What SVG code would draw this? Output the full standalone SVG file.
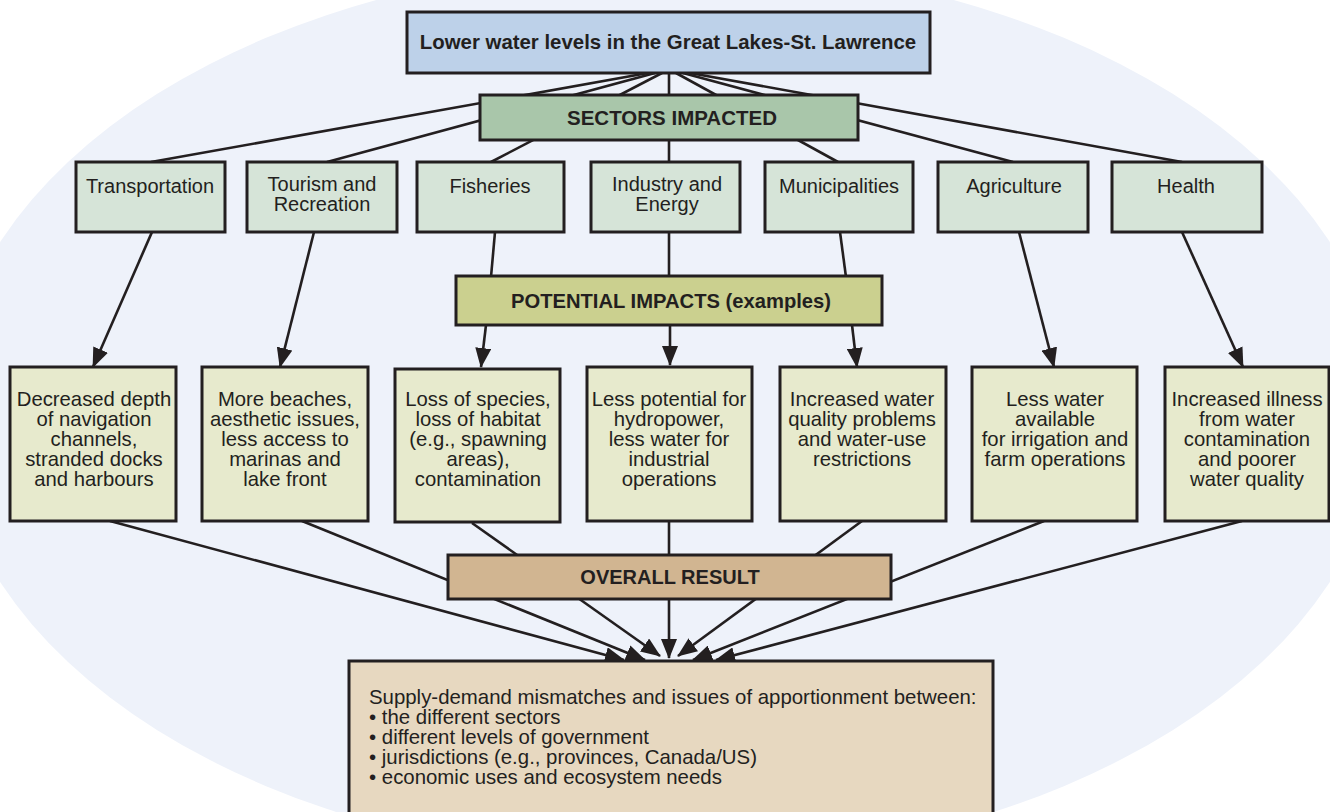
<svg xmlns="http://www.w3.org/2000/svg" width="1330" height="812" viewBox="0 0 1330 812">
<style>
.box{stroke:#231f20;stroke-width:3}
.t{font-family:"Liberation Sans",Arial,Helvetica,sans-serif;font-size:20px;fill:#231f20}
.c{text-anchor:middle}
.b{font-weight:bold}
.ln{stroke:#231f20;stroke-width:2.6;fill:none}
.ar{stroke:#231f20;stroke-width:2.6;fill:none;marker-end:url(#ah)}
.sec{fill:#d6e4d8}
.res{fill:#e7eacd}
</style>
<defs>
<marker id="ah" markerUnits="userSpaceOnUse" markerWidth="20" markerHeight="16" refX="19" refY="8" orient="auto">
<path d="M0,0 L20,8 L0,16 Z" fill="#231f20"/>
</marker>
</defs>
<rect width="1330" height="812" fill="#ffffff"/>
<ellipse cx="665" cy="412" rx="718" ry="450" fill="#eef2fa"/>
<g id="connectors">
<line class="ln" x1="648" y1="73" x2="151" y2="162"/>
<line class="ln" x1="655" y1="73" x2="327" y2="162"/>
<line class="ln" x1="662" y1="73" x2="491" y2="162"/>
<line class="ln" x1="669" y1="73" x2="669" y2="162"/>
<line class="ln" x1="676" y1="73" x2="838" y2="162"/>
<line class="ln" x1="683" y1="73" x2="1013" y2="162"/>
<line class="ln" x1="690" y1="73" x2="1182" y2="162"/>
<line class="ar" x1="152" y1="232" x2="93" y2="367"/>
<line class="ar" x1="314" y1="232" x2="280" y2="367"/>
<line class="ln" x1="495" y1="232" x2="491" y2="277"/>
<line class="ar" x1="486" y1="325" x2="481" y2="367"/>
<line class="ln" x1="669" y1="232" x2="669" y2="277"/>
<line class="ar" x1="670" y1="325" x2="670" y2="365"/>
<line class="ln" x1="840" y1="232" x2="846" y2="277"/>
<line class="ar" x1="852" y1="325" x2="857" y2="367"/>
<line class="ar" x1="1019" y1="232" x2="1054" y2="367"/>
<line class="ar" x1="1182" y1="232" x2="1243" y2="367"/>
<line class="ar" x1="110" y1="521" x2="624" y2="660"/>
<line class="ar" x1="302" y1="521" x2="645" y2="660"/>
<line class="ar" x1="472" y1="523" x2="660" y2="656"/>
<line class="ar" x1="669" y1="521" x2="669" y2="658"/>
<line class="ar" x1="862" y1="521" x2="678" y2="656"/>
<line class="ar" x1="1044" y1="521" x2="693" y2="660"/>
<line class="ar" x1="1242" y1="521" x2="716" y2="660"/>
</g>
<g id="n-top">
<rect class="box" x="407" y="12" width="523" height="61" fill="#bdd1e9"/>
<text class="t c b" x="668" y="49" style="font-size:20.4px">Lower water levels in the Great Lakes-St. Lawrence</text>
</g>
<g id="n-sectors">
<rect class="box" x="480" y="95" width="378" height="45" fill="#a9c6aa"/>
<text class="t c b" x="672" y="125" style="font-size:20.5px">SECTORS IMPACTED</text>
</g>
<g id="n-transportation">
<rect class="box sec" x="76" y="162" width="149" height="70"/>
<text class="t c" x="150" y="193">Transportation</text>
</g>
<g id="n-tourism">
<rect class="box sec" x="247" y="162" width="150" height="70"/>
<text class="t c" x="322" y="191">Tourism and<tspan x="322" dy="20">Recreation</tspan></text>
</g>
<g id="n-fisheries">
<rect class="box sec" x="417" y="162" width="147" height="70"/>
<text class="t c" x="490" y="193">Fisheries</text>
</g>
<g id="n-industry">
<rect class="box sec" x="591" y="162" width="149" height="70"/>
<text class="t c" x="667" y="191">Industry and<tspan x="667" dy="20">Energy</tspan></text>
</g>
<g id="n-municipalities">
<rect class="box sec" x="765" y="162" width="148" height="70"/>
<text class="t c" x="839" y="193">Municipalities</text>
</g>
<g id="n-agriculture">
<rect class="box sec" x="938" y="162" width="150" height="70"/>
<text class="t c" x="1014" y="193">Agriculture</text>
</g>
<g id="n-health">
<rect class="box sec" x="1112" y="162" width="150" height="70"/>
<text class="t c" x="1186" y="193">Health</text>
</g>
<g id="n-potential">
<rect class="box" x="456" y="276" width="426" height="49" fill="#cbd08f"/>
<text class="t c b" x="671" y="308" style="font-size:20.2px">POTENTIAL IMPACTS (examples)</text>
</g>
<g id="n-r1">
<rect class="box res" x="10" y="367" width="166" height="154"/>
<text class="t c" x="94" y="406" style="font-size:20.3px">Decreased depth<tspan x="94" dy="20">of navigation</tspan><tspan x="94" dy="20">channels,</tspan><tspan x="94" dy="20">stranded docks</tspan><tspan x="94" dy="20">and harbours</tspan></text>
</g>
<g id="n-r2">
<rect class="box res" x="202" y="367" width="166" height="154"/>
<text class="t c" x="285" y="406" style="font-size:20.3px">More beaches,<tspan x="285" dy="20">aesthetic issues,</tspan><tspan x="285" dy="20">less access to</tspan><tspan x="285" dy="20">marinas and</tspan><tspan x="285" dy="20">lake front</tspan></text>
</g>
<g id="n-r3">
<rect class="box res" x="395" y="369" width="165" height="153"/>
<text class="t c" x="478" y="406" style="font-size:20.3px">Loss of species,<tspan x="478" dy="20">loss of habitat</tspan><tspan x="478" dy="20">(e.g., spawning</tspan><tspan x="478" dy="20">areas),</tspan><tspan x="478" dy="20">contamination</tspan></text>
</g>
<g id="n-r4">
<rect class="box res" x="587" y="367" width="165" height="154"/>
<text class="t c" x="669" y="406" style="font-size:20.3px">Less potential for<tspan x="669" dy="20">hydropower,</tspan><tspan x="669" dy="20">less water for</tspan><tspan x="669" dy="20">industrial</tspan><tspan x="669" dy="20">operations</tspan></text>
</g>
<g id="n-r5">
<rect class="box res" x="780" y="367" width="166" height="154"/>
<text class="t c" x="862" y="406" style="font-size:20.3px">Increased water<tspan x="862" dy="20">quality problems</tspan><tspan x="862" dy="20">and water-use</tspan><tspan x="862" dy="20">restrictions</tspan></text>
</g>
<g id="n-r6">
<rect class="box res" x="972" y="367" width="165" height="154"/>
<text class="t c" x="1055" y="406" style="font-size:20.3px">Less water<tspan x="1055" dy="20">available</tspan><tspan x="1055" dy="20">for irrigation and</tspan><tspan x="1055" dy="20">farm operations</tspan></text>
</g>
<g id="n-r7">
<rect class="box res" x="1165" y="367" width="164" height="154"/>
<text class="t c" x="1247" y="406" style="font-size:20.3px">Increased illness<tspan x="1247" dy="20">from water</tspan><tspan x="1247" dy="20">contamination</tspan><tspan x="1247" dy="20">and poorer</tspan><tspan x="1247" dy="20">water quality</tspan></text>
</g>
<g id="n-overall">
<rect class="box" x="448" y="555" width="443" height="44" fill="#d1b591"/>
<text class="t c b" x="670" y="584">OVERALL RESULT</text>
</g>
<g id="n-final">
<rect class="box" x="349" y="661" width="644" height="170" fill="#e7d8c0"/>
<text class="t" x="369" y="704" style="font-size:20.4px">Supply-demand mismatches and issues of apportionment between:<tspan x="369" dy="20">• the different sectors</tspan><tspan x="369" dy="20">• different levels of government</tspan><tspan x="369" dy="20">• jurisdictions (e.g., provinces, Canada/US)</tspan><tspan x="369" dy="20">• economic uses and ecosystem needs</tspan></text>
</g>
</svg>
